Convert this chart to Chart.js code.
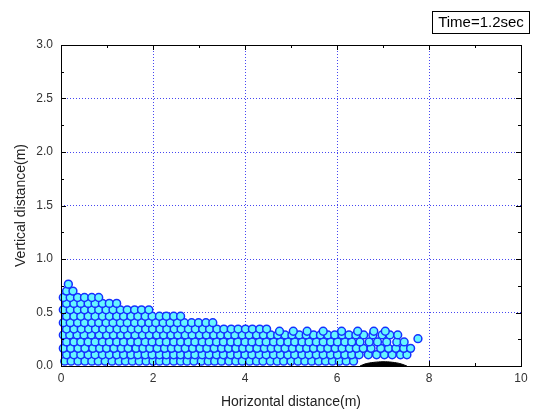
<!DOCTYPE html>
<html>
<head>
<meta charset="utf-8">
<script src="https://cdn.jsdelivr.net/npm/chart.js@4/dist/chart.umd.min.js"></script>
<style>
  body { margin: 0; background: #fff; }
  #wrap { width: 535px; height: 415px; }
</style>
</head>
<body>
<div id="wrap"><canvas id="chart" width="535" height="415"></canvas></div>
<script>
// Particle bed at t = 1.2 s (metres)
const rowHeights = [0.045, 0.105, 0.165, 0.225, 0.29, 0.325, 0.345, 0.405, 0.465, 0.525, 0.585, 0.64, 0.70, 0.765];
const rowPositions = [
    [0.08,0.22,0.37,0.52,0.67,0.81,0.96,1.11,1.26,1.40,1.55,1.70,1.85,2.00,2.14,2.29,2.45,2.60,2.74,2.89,3.05,3.20,3.34,3.49,3.65,3.80,3.94,4.10,4.25,4.39,4.55,4.70,4.84,5.00,5.15,5.30,5.45,5.60,5.75,5.90,6.05,6.20,6.36],
    [0.12,0.28,0.43,0.59,0.74,0.90,1.05,1.21,1.36,1.52,1.67,1.83,1.98,2.14,2.29,2.45,2.60,2.76,2.91,3.07,3.22,3.38,3.53,3.69,3.84,4.00,4.15,4.31,4.46,4.62,4.77,4.93,5.08,5.24,5.39,5.55,5.70,5.86,6.01,6.17,6.32,6.48,6.68,6.86,7.03,7.20,7.38,7.52],
    [0.05,0.21,0.37,0.52,0.69,0.84,0.99,1.15,1.31,1.46,1.63,1.78,1.93,2.09,2.25,2.40,2.55,2.70,2.86,3.02,3.17,3.33,3.49,3.64,3.80,3.95,4.10,4.26,4.42,4.57,4.72,4.87,5.03,5.19,5.34,5.49,5.65,5.80,5.96,6.11,6.27,6.42,6.57,6.74,6.95,7.12,7.28,7.45,7.60],
    [0.12,0.28,0.43,0.59,0.74,0.90,1.05,1.21,1.36,1.52,1.67,1.83,1.98,2.14,2.29,2.45,2.60,2.76,2.91,3.07,3.22,3.38,3.53,3.69,3.84,4.00,4.15,4.31,4.46,4.62,4.77,4.93,5.08,5.24,5.39,5.55,5.70,5.86,6.01,6.17,6.32,6.50,6.70,6.88,7.08,7.30,7.46],
    [0.05,0.19,0.35,0.50,0.66,0.83,0.99,1.14,1.30,1.45,1.61,1.77,1.92,2.08,2.23,2.39,2.54,2.70,2.85,3.01,3.16,3.32,3.47,3.63,3.78,3.94,4.09,4.25,4.40,4.56,4.71,4.87,5.02,5.18,5.33,5.49,5.64,5.80,5.95,6.11,6.26,6.41,6.58,6.78,6.98,7.15,7.32],
    [4.75,5.05,5.35,5.70,6.10,6.45,6.80,7.05],
    [0.12,0.28,0.44,0.60,0.75,0.91,1.06,1.22,1.37,1.53,1.68,1.84,1.99,2.15,2.30,2.46,2.61,2.77,2.92,3.08,3.23,3.39,3.54,3.70,3.85,4.01,4.16,4.32,4.47],
    [0.05,0.20,0.36,0.51,0.67,0.82,0.98,1.13,1.29,1.44,1.60,1.75,1.91,2.06,2.22,2.37,2.53,2.68,2.84,2.99,3.15,3.30],
    [0.12,0.28,0.43,0.59,0.74,0.90,1.05,1.21,1.36,1.52,1.67,1.83,1.98,2.14,2.29,2.45,2.60],
    [0.05,0.20,0.36,0.51,0.67,0.82,0.98,1.13,1.29,1.44,1.60,1.75,1.91],
    [0.12,0.28,0.43,0.59,0.74,0.90,1.05,1.21],
    [0.05,0.20,0.36,0.51,0.67,0.82],
    [0.12,0.26],
    [0.16]
];
const strayX = [7.76];
const strayY = [0.255];

// obstacle mound at the bottom
const moundX = [6.50, 6.60, 6.70, 6.80, 6.90, 7.00, 7.10, 7.20, 7.30, 7.40, 7.52];
const moundY = [0.0, 0.018, 0.028, 0.034, 0.038, 0.040, 0.039, 0.035, 0.029, 0.019, 0.0];

const xTicks = [0, 2, 4, 6, 8, 10];
const yTicks = [0.0, 0.5, 1.0, 1.5, 2.0, 2.5, 3.0];
const timeLabel = "Time=1.2sec";

let particles = [];
rowHeights.forEach(function(h, i) {
    rowPositions[i].forEach(function(x) { particles.push({ x: x, y: h }); });
});
strayX.forEach(function(x, i) { particles.push({ x: x, y: strayY[i] }); });

let mound = moundX.map(function(x, i) { return { x: x, y: moundY[i] }; });

// frame, inward ticks and the time box
const framePlugin = {
    id: "frame",
    afterDraw(chart) {
        const ctx = chart.ctx;
        const a = chart.chartArea;
        const xs = chart.scales.x, ys = chart.scales.y;
        ctx.save();
        ctx.strokeStyle = "#000";
        ctx.lineWidth = 1;
        ctx.beginPath();
        for (let v = 0; v <= 10; v += 1) {
            let p = Math.round(xs.getPixelForValue(v)) + 0.5;
            let len = v % 2 === 0 ? 5 : 3;
            ctx.moveTo(p, a.bottom); ctx.lineTo(p, a.bottom - len);
            ctx.moveTo(p, a.top); ctx.lineTo(p, a.top + len);
        }
        for (let k = 0; k <= 12; k++) {
            let p = Math.round(ys.getPixelForValue(k * 0.25)) + 0.5;
            let len = k % 2 === 0 ? 5 : 3;
            ctx.moveTo(a.left, p); ctx.lineTo(a.left + len, p);
            ctx.moveTo(a.right, p); ctx.lineTo(a.right - len, p);
        }
        ctx.stroke();
        ctx.strokeRect(Math.round(a.left) + 0.5, Math.round(a.top) + 0.5,
            Math.round(a.right - a.left), Math.round(a.bottom - a.top));

        ctx.fillStyle = "#fff";
        ctx.fillRect(432.5, 11.5, 97, 22);
        ctx.strokeRect(432.5, 11.5, 97, 22);
        ctx.fillStyle = "#000";
        ctx.font = "15px 'Liberation Sans', Arial, sans-serif";
        ctx.textAlign = "center";
        ctx.textBaseline = "middle";
        ctx.fillText(timeLabel, 481, 23);
        ctx.restore();
    }
};

const gridBlue = "rgba(60, 60, 240, 0.95)";

new Chart(document.getElementById("chart"), {
    type: "scatter",
    data: {
        datasets: [
            {
                label: "mound",
                data: mound,
                showLine: true,
                fill: "origin",
                tension: 0.3,
                borderColor: "#000",
                backgroundColor: "#000",
                borderWidth: 1,
                pointRadius: 0
            },
            {
                label: "particles",
                data: particles,
                pointRadius: 3.9,
                pointBackgroundColor: "#66f5ff",
                pointBorderColor: "#1530ff",
                pointBorderWidth: 1.5,
                clip: 6
            }
        ]
    },
    options: {
        responsive: false,
        animation: false,
        layout: { padding: { left: 0, top: 45, right: 14, bottom: 0 } },
        plugins: {
            legend: { display: false },
            tooltip: { enabled: false }
        },
        scales: {
            x: {
                type: "linear",
                min: 0,
                max: 10,
                afterFit: function(scale) { scale.height = 49; },
                afterBuildTicks: function(scale) {
                    scale.ticks = xTicks.map(function(v) { return { value: v }; });
                },
                ticks: {
                    color: "#333",
                    font: { family: "'Liberation Sans', Arial, sans-serif", size: 12 },
                    padding: 5,
                    maxRotation: 0,
                    callback: function(v) { return String(v); }
                },
                grid: { color: gridBlue, lineWidth: 1, drawTicks: false },
                border: { display: false, dash: [1, 2] },
                title: {
                    display: true,
                    text: "Horizontal distance(m)",
                    color: "#222",
                    font: { family: "'Liberation Sans', Arial, sans-serif", size: 14 },
                    padding: { top: 0, bottom: 4 }
                }
            },
            y: {
                type: "linear",
                min: 0,
                max: 3,
                afterFit: function(scale) { scale.width = 61; },
                afterBuildTicks: function(scale) {
                    scale.ticks = yTicks.map(function(v) { return { value: v }; });
                },
                ticks: {
                    color: "#333",
                    font: { family: "'Liberation Sans', Arial, sans-serif", size: 12 },
                    padding: 8,
                    callback: function(v) { return Number(v).toFixed(1); }
                },
                grid: { color: gridBlue, lineWidth: 1, drawTicks: false },
                border: { display: false, dash: [1, 2] },
                title: {
                    display: true,
                    text: "Vertical distance(m)",
                    color: "#222",
                    font: { family: "'Liberation Sans', Arial, sans-serif", size: 14 },
                    padding: { top: 13, bottom: 0 }
                }
            }
        }
    },
    plugins: [framePlugin]
});
</script>
</body>
</html>
